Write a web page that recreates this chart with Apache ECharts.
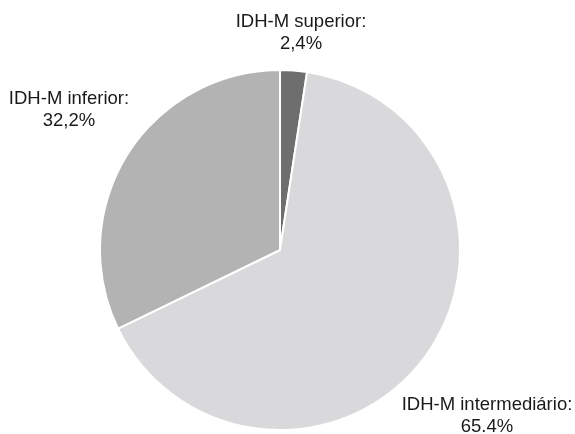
<!DOCTYPE html>
<html>
<head>
<meta charset="utf-8">
<script src="https://cdn.jsdelivr.net/npm/echarts@6/dist/echarts.min.js"></script>
<style>html,body{margin:0;padding:0;background:#fff}#c{width:575px;height:434px}</style>
</head>
<body>
<div id="c"></div>
<script>
var categories = ["IDH-M superior", "IDH-M intermediário", "IDH-M inferior"];
var values = [2.4, 65.4, 32.2];
var valueLabels = ["2,4%", "65.4%", "32,2%"];
var colors = ["#6e6e6e", "#d9d9db", "#b3b3b4"];
var labelSpots = [[301, 33], [487, 416], [69, 110]];

var chart = echarts.init(document.getElementById('c'), null, {renderer: 'canvas'});
chart.setOption({
  animation: false,
  backgroundColor: '#ffffff',
  series: [{
    type: 'pie',
    center: [280, 250],
    radius: [0, 180],
    startAngle: 90,
    clockwise: true,
    data: categories.map(function (n, i) {
      return {name: n, value: values[i], itemStyle: {color: colors[i]}};
    }),
    itemStyle: {borderColor: '#ffffff', borderWidth: 2},
    label: {
      show: true,
      position: 'outside',
      formatter: function (p) { return p.name + ':\n' + valueLabels[p.dataIndex]; },
      fontFamily: 'Liberation Sans, Arial, sans-serif',
      fontSize: 18.5,
      lineHeight: 22,
      color: '#1a1a1a',
      align: 'center',
      overflow: 'none',
      width: 300
    },
    labelLine: {show: false},
    labelLayout: function (params) {
      var s = labelSpots[params.dataIndex];
      return {x: s[0], y: s[1], align: 'center', verticalAlign: 'middle', hideOverlap: false, moveOverlap: null};
    },
    emphasis: {disabled: true}
  }]
});
</script>
</body>
</html>
